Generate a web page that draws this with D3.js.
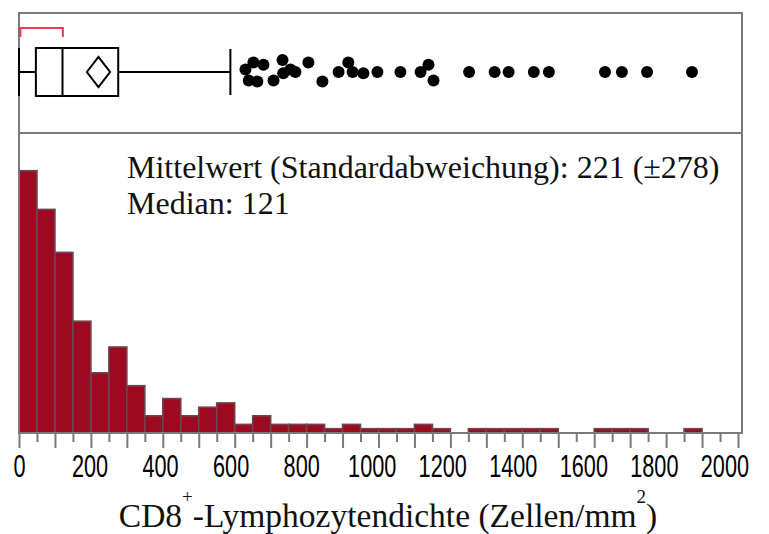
<!DOCTYPE html>
<html>
<head>
<meta charset="utf-8">
<script src="https://cdn.jsdelivr.net/npm/d3@7"></script>
<style>
  body { margin: 0; background: #fff; }
  .tick text { font-family: "Liberation Sans", Arial, sans-serif; }
</style>
</head>
<body>
<div id="chart"></div>
<script>
// histogram: bin starts (width 50) and counts
var binWidth = 50;
var binStarts = d3.range(0, 2000, binWidth);
var counts = [61, 52, 42, 26, 14, 20, 11, 4, 8, 4,
              6, 7, 2, 4, 2, 2, 2, 1, 2, 1,
              1, 1, 2, 1, 0, 1, 1, 1, 1, 1,
              0, 0, 1, 1, 1, 0, 0, 1, 0, 0];

// box plot summary
var quartiles = [47, 121, 276];
var whiskers = [0, 588];
var meanVal = 221;
var sdVal = 278;
var shortestHalf = [4, 122];

// outliers beyond upper whisker, with jitter (unitless, -1..1)
var outliers = [630, 639, 652, 663, 680, 708, 733, 735, 755, 769,
                805, 844, 889, 916, 928, 958, 997, 1061, 1117, 1139,
                1153, 1252, 1323, 1362, 1432, 1474, 1630, 1677, 1747, 1872];
var jitter = [-0.1, 0.35, -0.4, 0.4, -0.3, 0.35, -0.5, 0.05, -0.1, 0,
              -0.4, 0.4, 0, -0.4, 0, 0.05, 0, 0, 0, -0.3,
              0.35, 0, 0, 0, 0, 0, 0, 0, 0, 0];

var tickMajor = d3.range(0, 2001, 100);
var tickMinor = d3.range(50, 2000, 100);
var tickLabels = d3.range(0, 2001, 200);

var width = 769, height = 534;
var left = 19, right = 742;
var boxTop = 13, boxBottom = 133, base = 433;
var frameColor = "#7a7a7a";
var serif = "'Liberation Serif', 'Times New Roman', serif";

var x = d3.scaleLinear().domain([0, 2000]).range([left, 738]);
var y = d3.scaleLinear().domain([0, 70]).range([base, boxBottom - 1]);

var svg = d3.select("#chart")
	.append("svg")
	.attr("width", width)
	.attr("height", height);

// histogram bars
var bins = binStarts.map(function (b, i) {
    return {x0: b, x1: b + binWidth, n: counts[i]};
}).filter(function (d) { return d.n > 0; });

svg.append("g")
	.selectAll("rect")
	.data(bins)
	.enter().append("rect")
	.attr("x", function (d) { return x(d.x0); })
	.attr("y", function (d) { return y(d.n); })
	.attr("width", function (d) { return x(d.x1) - x(d.x0); })
	.attr("height", function (d) { return base - y(d.n); })
	.attr("fill", "#9c0a22")
	.attr("stroke", "#6e4650")
	.attr("stroke-width", 1.6);

// text
var stats = svg.append("text")
	.attr("x", 127)
	.attr("y", 178)
	.style("font-family", serif)
	.style("font-size", "32px")
	.attr("fill", "#111");
stats.append("tspan").text("Mittelwert (Standardabweichung): " + meanVal + " (\u00b1" + sdVal + ")");
stats.append("tspan").attr("x", 127).attr("dy", 36).text("Median: " + quartiles[1]);

// x axis
var axisMajor = d3.axisBottom(x)
	.tickValues(tickMajor)
	.tickSize(15)
	.tickSizeOuter(0)
	.tickPadding(7)
	.tickFormat(function (d) { return tickLabels.indexOf(d) >= 0 ? d : ""; });
var gx = svg.append("g")
	.attr("transform", "translate(0," + base + ")")
	.call(axisMajor);
gx.select(".domain").remove();
gx.selectAll("line").attr("stroke", frameColor).attr("stroke-width", 2);
// narrow labels, pulled slightly left toward the right end like the original
gx.selectAll("text")
	.attr("fill", "#000")
	.style("font-size", "31px")
	.attr("transform", function (d) { return "translate(" + (-0.0068 * d) + ",0) scale(0.7,1)"; });

var axisMinor = d3.axisBottom(x).tickValues(tickMinor).tickSize(9).tickFormat("");
var gm = svg.append("g")
	.attr("transform", "translate(0," + base + ")")
	.call(axisMinor);
gm.select(".domain").remove();
gm.selectAll("line").attr("stroke", frameColor).attr("stroke-width", 2);

// frames
svg.append("rect")
	.attr("x", left).attr("y", boxTop)
	.attr("width", right - left).attr("height", boxBottom - boxTop)
	.attr("fill", "none").attr("stroke", frameColor).attr("stroke-width", 2);
svg.append("path")
	.attr("d", "M" + left + "," + boxBottom + "V" + base + "H" + right + "V" + boxBottom)
	.attr("fill", "none").attr("stroke", frameColor).attr("stroke-width", 2);

// axis title
var title = svg.append("text")
	.attr("x", 388)
	.attr("y", 527)
	.attr("text-anchor", "middle")
	.style("font-family", serif)
	.style("font-size", "33.5px")
	.attr("fill", "#111");
title.append("tspan").text("CD8");
title.append("tspan").attr("dy", -24).style("font-size", "19px").text("+");
title.append("tspan").attr("dy", 24).text("-Lymphozytendichte (Zellen/mm");
title.append("tspan").attr("dy", -24).style("font-size", "19px").text("2");
title.append("tspan").attr("dy", 24).text(")");

// box plot
var cy = 72, bh = 24;
var bp = svg.append("g").attr("stroke", "#000").attr("stroke-width", 2).attr("fill", "none");
bp.append("line").attr("x1", x(whiskers[0])).attr("x2", x(quartiles[0])).attr("y1", cy).attr("y2", cy);
bp.append("line").attr("x1", x(quartiles[2])).attr("x2", x(whiskers[1])).attr("y1", cy).attr("y2", cy);
bp.append("line").attr("x1", x(whiskers[0])).attr("x2", x(whiskers[0])).attr("y1", cy - bh).attr("y2", cy + bh);
bp.append("line").attr("x1", x(whiskers[1])).attr("x2", x(whiskers[1])).attr("y1", cy - bh + 1).attr("y2", cy + bh - 1);
bp.append("rect")
	.attr("x", x(quartiles[0])).attr("y", cy - bh)
	.attr("width", x(quartiles[2]) - x(quartiles[0])).attr("height", 2 * bh);
bp.append("line").attr("x1", x(quartiles[1])).attr("x2", x(quartiles[1])).attr("y1", cy - bh).attr("y2", cy + bh);

// mean diamond: width = 95% confidence interval of the mean
var n = d3.sum(counts);
var ci = 1.96 * sdVal / Math.sqrt(n);
var dh = 15;
bp.append("path")
	.attr("d", "M" + x(meanVal - ci) + "," + cy +
	    "L" + x(meanVal) + "," + (cy - dh) +
	    "L" + x(meanVal + ci) + "," + cy +
	    "L" + x(meanVal) + "," + (cy + dh) + "Z");

// shortest half bracket
svg.append("path")
	.attr("d", "M" + x(shortestHalf[0]) + ",37V28H" + x(shortestHalf[1]) + "V37")
	.attr("fill", "none")
	.attr("stroke", "#f03a4f")
	.attr("stroke-width", 2);

// outlier points
svg.append("g")
	.selectAll("circle")
	.data(outliers)
	.enter().append("circle")
	.attr("cx", function (d) { return x(d); })
	.attr("cy", function (d, i) { return cy + jitter[i] * bh; })
	.attr("r", 6)
	.attr("fill", "#000");
</script>
</body>
</html>
